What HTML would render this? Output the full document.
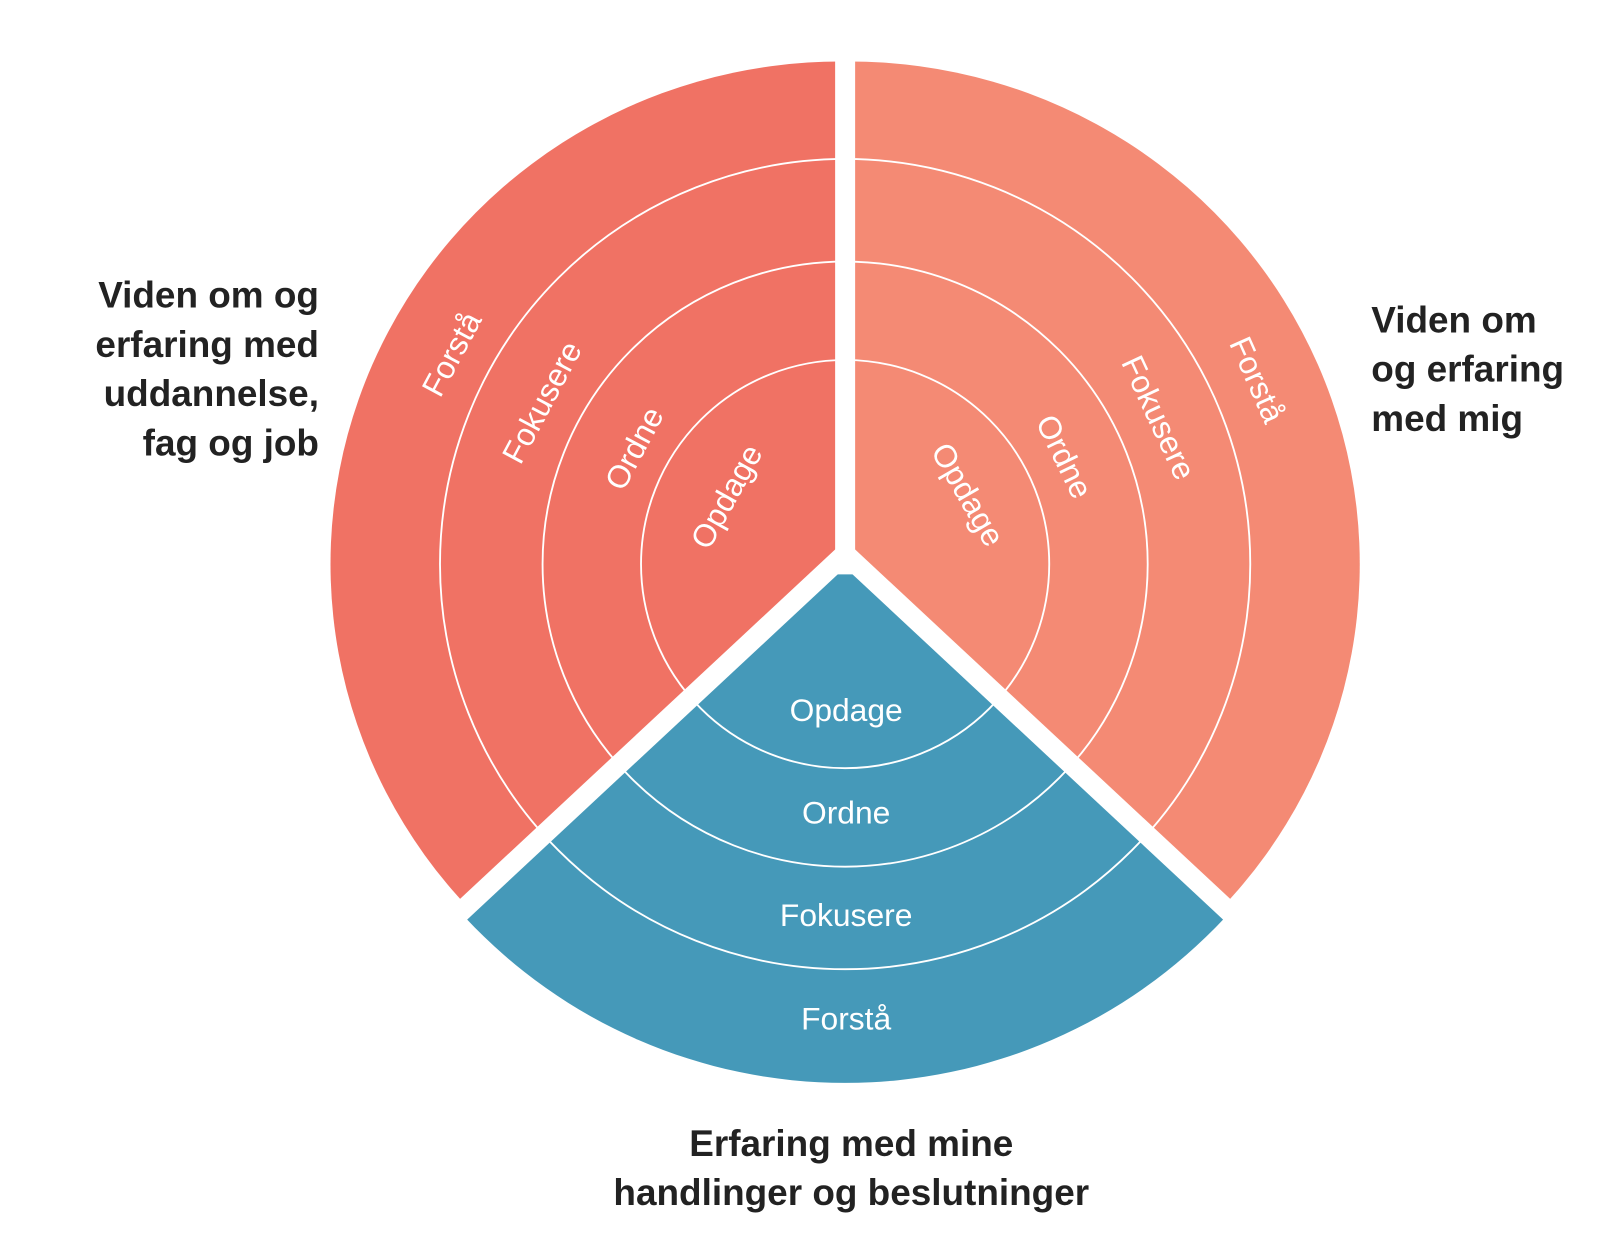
<!DOCTYPE html>
<html><head><meta charset="utf-8"><style>
html,body{margin:0;padding:0;background:#fff;}
svg{display:block;}
text{font-family:"Liberation Sans",sans-serif;}
.w{fill:#fff;font-size:31px;}
.b{fill:#222;font-size:36px;font-weight:bold;}
</style></head><body>
<svg width="1600" height="1252" viewBox="0 0 1560 1220.7" preserveAspectRatio="none" xmlns="http://www.w3.org/2000/svg">
<path d="M824,550 L460.5,889.1 A497,490 0 0 1 824,60 Z" fill="#f07264"/>
<path d="M824,550 L824,60 A497,490 0 0 1 1187.5,889.1 Z" fill="#f48a74"/>
<path d="M824,550 L1194,895 A506,506 0 0 1 454,895 Z" fill="#4599b9"/>
<g fill="none" stroke="#fff" stroke-width="1.8">
<circle cx="824" cy="550" r="199"/>
<circle cx="824" cy="550" r="295"/>
<circle cx="824" cy="550" r="395"/>
</g>
<g stroke="#fff" stroke-width="19.5" stroke-linecap="butt">
<line x1="824" y1="560" x2="824" y2="30"/>
<line x1="824" y1="540" x2="430" y2="907"/>
<line x1="824" y1="540" x2="1218" y2="907"/>
</g>
<g class="w" text-anchor="middle">
<text transform="translate(440,345) rotate(-62)" dy="11">Forstå</text>
<text transform="translate(528,392) rotate(-62)" dy="11">Fokusere</text>
<text transform="translate(618,437) rotate(-62)" dy="11">Ordne</text>
<text transform="translate(708,484) rotate(-61)" dy="11">Opdage</text>
<text transform="translate(1226,370) rotate(66)" dy="11">Forstå</text>
<text transform="translate(1130,407) rotate(65)" dy="11">Fokusere</text>
<text transform="translate(1038,445) rotate(64)" dy="11">Ordne</text>
<text transform="translate(944,482) rotate(60)" dy="11">Opdage</text>
<text x="825" y="703">Opdage</text>
<text x="825" y="803">Ordne</text>
<text x="825" y="903">Fokusere</text>
<text x="825" y="1004">Forstå</text>
</g>
<g class="b">
<text x="311" y="300" text-anchor="end">Viden om og</text>
<text x="311" y="348" text-anchor="end">erfaring med</text>
<text x="311" y="396" text-anchor="end">uddannelse,</text>
<text x="311" y="444" text-anchor="end">fag og job</text>
<text x="1337" y="324">Viden om</text>
<text x="1337" y="372">og erfaring</text>
<text x="1337" y="420">med mig</text>
<text x="830" y="1127" text-anchor="middle">Erfaring med mine</text>
<text x="830" y="1175" text-anchor="middle">handlinger og beslutninger</text>
</g>
</svg>
</body></html>
